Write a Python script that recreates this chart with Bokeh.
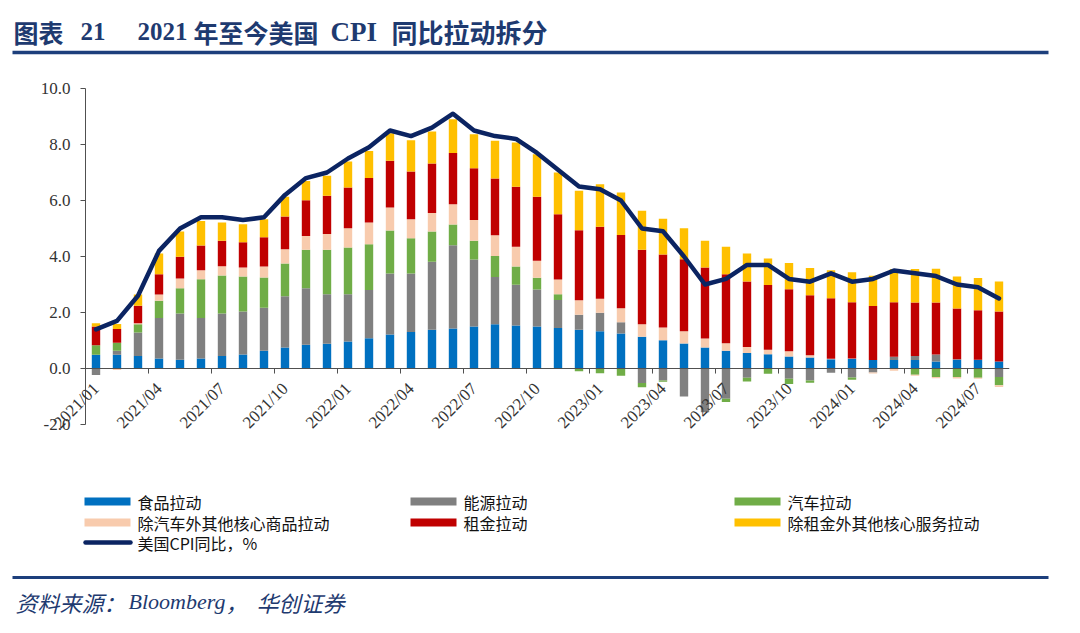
from bokeh.plotting import figure
from bokeh.models import Range1d, FixedTicker, NumeralTickFormatter, Label
from bokeh.layouts import column
from bokeh.embed import file_html
from bokeh.resources import INLINE
from bokeh.core.properties import value

# ---------------- data ----------------
months = ["2021/01", "2021/02", "2021/03", "2021/04", "2021/05", "2021/06", "2021/07", "2021/08",
          "2021/09", "2021/10", "2021/11", "2021/12", "2022/01", "2022/02", "2022/03", "2022/04",
          "2022/05", "2022/06", "2022/07", "2022/08", "2022/09", "2022/10", "2022/11", "2022/12",
          "2023/01", "2023/02", "2023/03", "2023/04", "2023/05", "2023/06", "2023/07", "2023/08",
          "2023/09", "2023/10", "2023/11", "2023/12", "2024/01", "2024/02", "2024/03", "2024/04",
          "2024/05", "2024/06", "2024/07", "2024/08"]

cpi = [1.4, 1.7, 2.6, 4.2, 5.0, 5.4, 5.4, 5.3, 5.4, 6.2, 6.8, 7.0,
       7.5, 7.9, 8.5, 8.3, 8.6, 9.1, 8.5, 8.3, 8.2, 7.7, 7.1, 6.5,
       6.4, 6.0, 5.0, 4.9, 4.0, 3.0, 3.2, 3.7, 3.7, 3.2, 3.1, 3.4,
       3.1, 3.2, 3.5, 3.4, 3.3, 3.0, 2.9, 2.5]

food = [0.49, 0.49, 0.45, 0.36, 0.31, 0.36, 0.45, 0.50, 0.63, 0.75, 0.85, 0.88,
        0.96, 1.08, 1.21, 1.30, 1.38, 1.43, 1.50, 1.58, 1.54, 1.50, 1.45, 1.38,
        1.33, 1.25, 1.13, 1.01, 0.89, 0.75, 0.63, 0.55, 0.51, 0.43, 0.39, 0.33,
        0.35, 0.30, 0.30, 0.30, 0.25, 0.31, 0.31, 0.25]

energy = [-0.23, 0.14, 0.84, 1.44, 1.65, 1.44, 1.51, 1.54, 1.54, 1.83, 2.02, 1.77,
          1.69, 1.72, 2.18, 2.09, 2.43, 2.97, 2.39, 1.69, 1.45, 1.32, 1.00, 0.54,
          0.66, 0.40, -0.52, -0.43, -1.00, -1.56, -1.08, -0.33, 0.00, -0.37, -0.43, -0.15,
          -0.32, -0.14, 0.12, 0.15, 0.25, 0.02, 0.00, -0.30]

cars = [0.34, 0.29, 0.29, 0.62, 0.91, 1.39, 1.36, 1.25, 1.08, 1.17, 1.37, 1.59,
        1.67, 1.64, 1.54, 1.26, 1.08, 0.74, 0.67, 0.75, 0.65, 0.42, 0.20, -0.10,
        -0.17, -0.26, -0.15, -0.04, 0.00, 0.00, -0.12, -0.13, -0.19, -0.18, -0.08, 0.00,
        -0.08, 0.00, 0.00, -0.22, -0.30, -0.30, -0.33, -0.30]

core_goods = [0.00, -0.05, 0.04, 0.22, 0.34, 0.32, 0.33, 0.32, 0.39, 0.51, 0.49, 0.56,
              0.69, 0.77, 0.82, 0.68, 0.66, 0.73, 0.74, 0.74, 0.71, 0.61, 0.53, 0.52,
              0.50, 0.50, 0.45, 0.45, 0.44, 0.32, 0.27, 0.22, 0.16, 0.19, 0.08, 0.02,
              0.01, -0.04, -0.08, -0.04, -0.05, -0.06, -0.04, -0.06]

rent = [0.67, 0.49, 0.62, 0.73, 0.78, 0.88, 0.91, 0.90, 1.05, 1.17, 1.28, 1.37,
        1.45, 1.59, 1.67, 1.71, 1.77, 1.83, 1.85, 2.03, 2.14, 2.28, 2.33, 2.50,
        2.57, 2.62, 2.66, 2.61, 2.57, 2.54, 2.47, 2.34, 2.31, 2.21, 2.15, 2.16,
        2.01, 1.93, 1.95, 1.91, 1.86, 1.81, 1.77, 1.79]

services = [0.12, 0.18, 0.40, 0.74, 0.90, 0.88, 0.65, 0.64, 0.64, 0.70, 0.69, 0.71,
            0.93, 0.97, 0.98, 1.11, 1.14, 1.20, 1.22, 1.34, 1.58, 1.52, 1.49, 1.41,
            1.52, 1.52, 1.39, 1.28, 1.11, 0.95, 0.98, 1.00, 0.95, 0.94, 0.97, 1.00,
            1.07, 1.08, 1.18, 1.19, 1.20, 1.15, 1.15, 1.07]

series_names = ["食品拉动", "能源拉动", "汽车拉动", "除汽车外其他核心商品拉动", "租金拉动", "除租金外其他核心服务拉动"]
series_values = [food, energy, cars, core_goods, rent, services]
series_colors = ["#0070C0", "#808080", "#70AD47", "#F8CBAD", "#C00000", "#FFC000"]
line_name = "美国CPI同比，%"
line_color = "#0B2462"
y_ticks = [-2, 0, 2, 4, 6, 8, 10]

title_parts = ["图表", "21", "2021", "年至今美国", "CPI", "同比拉动拆分"]
source_parts = ["资料来源：", "Bloomberg", "，", "华创证券"]

NAVY_TEXT = "#1E3A70"
NAVY_LINE = "#1D3F7C"
AXIS_GRAY = "#505050"
SERIF = "Liberation Serif"
CJK = "Noto Sans CJK SC"

# ---------------- title strip ----------------
t = figure(width=1080, height=60, x_range=Range1d(0, 1080), y_range=Range1d(60, 0),
           x_axis_type=None, y_axis_type=None, toolbar_location=None, output_backend="svg",
           min_border=0, min_border_left=0, min_border_right=0, min_border_top=0, min_border_bottom=0,
           outline_line_color=None, frame_align=False)
t.xgrid.visible = False
t.ygrid.visible = False
title_x = [13, 80, 137, 193, 330, 391]
title_fonts = [CJK, SERIF, SERIF, CJK, SERIF, CJK]
title_sizes = ["25px", "25px", "25px", "25px", "27px", "26px"]
for txt, xx, fnt, fs in zip(title_parts, title_x, title_fonts, title_sizes):
    t.text(x=[xx], y=[31], text=[txt], text_font=value(fnt), text_font_size=fs,
           text_font_style="bold", text_color=NAVY_TEXT, text_baseline="middle", text_align="left")
t.segment(x0=[12], y0=[52], x1=[1048], y1=[52], line_color=NAVY_LINE, line_width=3.5)

# ---------------- main chart ----------------
n = len(months)
xs = list(range(n))
PX_PER_CAT = 21.0
PX_PER_UNIT = 28.0
AXIS_PX = 85          # pixel position of the value axis
FRAME_LEFT = 30       # frame starts left of the axis so labels are not clipped
PAD_PX = 12           # extra frame room above/below the value range for tick labels
x_start = -0.5 - (AXIS_PX - FRAME_LEFT) / PX_PER_CAT
y_pad = PAD_PX / PX_PER_UNIT
p = figure(width=1080, height=410, x_range=Range1d(x_start, n - 0.5),
           y_range=Range1d(y_ticks[0] - y_pad, y_ticks[-1] + y_pad),
           x_axis_type=None, toolbar_location=None, output_backend="svg",
           min_border_left=FRAME_LEFT, min_border_right=71,
           min_border_top=28 - PAD_PX, min_border_bottom=46 - PAD_PX,
           outline_line_color=None, frame_align=False)
p.xgrid.visible = False
p.ygrid.visible = False

pos = [0.0] * n
neg = [0.0] * n
for vals, col in zip(series_values, series_colors):
    bottoms, tops = [], []
    for i, v in enumerate(vals):
        if v >= 0:
            b0 = pos[i]; tp = b0 + v; pos[i] = tp
        else:
            b0 = neg[i]; tp = b0 + v; neg[i] = tp
        bottoms.append(b0); tops.append(tp)
    p.vbar(x=xs, width=0.4, bottom=bottoms, top=tops, fill_color=col, line_color=None)

# category axis along zero
p.segment(x0=[-0.5], y0=[0], x1=[n - 0.5], y1=[0], line_color=AXIS_GRAY, line_width=1)
tick_pos = [i - 0.5 for i in range(3, n, 3)]
p.segment(x0=tick_pos, y0=[0] * len(tick_pos), x1=tick_pos, y1=[-0.18] * len(tick_pos),
          line_color=AXIS_GRAY, line_width=1)

p.line(xs, cpi, line_color=line_color, line_width=4.5, line_join="round", line_cap="round")

for i in range(0, n, 3):
    p.add_layout(Label(x=i, y=-0.62, text=months[i], angle=0.7853981634,
                       text_align="right", text_baseline="middle", text_font=SERIF,
                       text_font_size="17px", text_color="#333333"))

ax = p.yaxis[0]
ax.fixed_location = -0.5
ax.bounds = (y_ticks[0], y_ticks[-1])
ax.ticker = FixedTicker(ticks=y_ticks)
ax.formatter = NumeralTickFormatter(format="0.0")
ax.major_label_text_font = SERIF
ax.major_label_text_font_size = "17px"
ax.major_label_text_color = "#333333"
ax.axis_line_color = AXIS_GRAY
ax.major_tick_line_color = AXIS_GRAY
ax.major_tick_out = 5
ax.major_tick_in = 0
ax.minor_tick_line_color = None
ax.major_label_standoff = 10

# ---------------- legend + source strip ----------------
b = figure(width=1080, height=163, x_range=Range1d(0, 1080), y_range=Range1d(633, 470),
           x_axis_type=None, y_axis_type=None, toolbar_location=None, output_backend="svg",
           min_border=0, min_border_left=0, min_border_right=0, min_border_top=0, min_border_bottom=0,
           outline_line_color=None, frame_align=False)
b.xgrid.visible = False
b.ygrid.visible = False
col_x = [84, 410, 734]
row_y = [501, 522, 542]
for k, (nm, col) in enumerate(zip(series_names, series_colors)):
    cx = col_x[k % 3]
    ry = row_y[k // 3]
    b.rect(x=[cx + 23], y=[ry], width=46, height=8, fill_color=col, line_color=None)
    b.text(x=[cx + 53], y=[ry], text=[nm], text_font=value(CJK), text_font_size="16px",
           text_color="#111111", text_baseline="middle", text_align="left")
b.segment(x0=[col_x[0] + 1], y0=[row_y[2]], x1=[col_x[0] + 46], y1=[row_y[2]],
          line_color=line_color, line_width=4.5, line_cap="round")
b.text(x=[col_x[0] + 53], y=[row_y[2]], text=[line_name], text_font=value(CJK), text_font_size="16px",
       text_color="#111111", text_baseline="middle", text_align="left")

b.segment(x0=[12], y0=[577], x1=[1048], y1=[577], line_color=NAVY_LINE, line_width=3)
src_x = [15, 128, 225, 256]
src_fonts = [CJK, SERIF, CJK, CJK]
for txt, xx, fnt in zip(source_parts, src_x, src_fonts):
    b.text(x=[xx], y=[601], text=[txt], text_font=value(fnt), text_font_size="22px",
           text_font_style="italic", text_color=NAVY_TEXT, text_baseline="middle", text_align="left")

layout = column(t, p, b, spacing=0)
open("out.html", "w").write(file_html(layout, INLINE))
